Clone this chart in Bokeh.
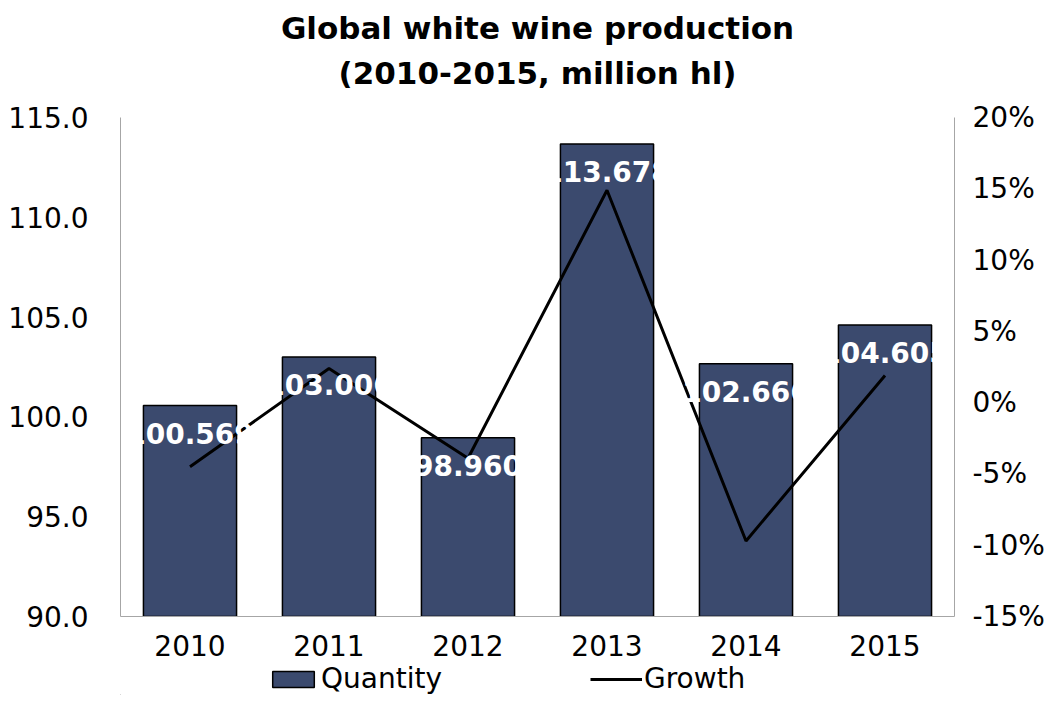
from bokeh.plotting import figure
from bokeh.layouts import column
from bokeh.models import (FactorRange, Range1d, LinearAxis, FixedTicker, NumeralTickFormatter,
                          ColumnDataSource, Legend, LegendItem)
from bokeh.core.properties import value
from bokeh.embed import file_html
from bokeh.resources import INLINE

years = ["2010", "2011", "2012", "2013", "2014", "2015"]
quantity = [100.569, 103.006, 98.960, 113.678, 102.666, 104.605]
growth = [-0.045, 0.024, -0.039, 0.149, -0.097, 0.019]
labels = ["100.569", "103.006", "98.960", "113.678", "102.666", "104.605"]
title_lines = ["Global white wine production", "(2010-2015, million hl)"]

left_ticks = [90, 95, 100, 105, 110, 115]
right_ticks = [-0.15, -0.10, -0.05, 0.0, 0.05, 0.10, 0.15, 0.20]

FONT = "DejaVu Sans"
BAR = "#3B4A6E"
AXIS = "#A6A6A6"
W = 1047


def strip(height):
    f = figure(width=W, height=height, x_range=Range1d(0, 1), y_range=Range1d(0, height),
               output_backend="svg", toolbar_location=None, min_border=0,
               x_axis_type=None, y_axis_type=None)
    f.outline_line_color = None
    f.xgrid.grid_line_color = None
    f.ygrid.grid_line_color = None
    return f


# ---- title strip
top = strip(96)
top.text(x=[0.5, 0.5], y=[69, 24], text=title_lines, text_font=value(FONT),
         text_font_style="bold", text_font_size="31px", text_color="black",
         text_align="center", text_baseline="middle")

# ---- main chart
src = ColumnDataSource(dict(x=years, q=quantity, g=growth, lab=labels))

p = figure(width=W, height=565, x_range=FactorRange(*years), y_range=Range1d(90, 115),
           output_backend="svg", toolbar_location=None,
           min_border_left=120, min_border_right=86, min_border_top=21, min_border_bottom=45)
p.extra_y_ranges = {"pct": Range1d(-0.15, 0.20)}
p.outline_line_color = None
p.xgrid.grid_line_color = None
p.ygrid.grid_line_color = None

bars = p.vbar(x="x", top="q", bottom=90, width=0.67, source=src, fill_color=BAR,
              line_color="black", line_width=1.5)
line = p.line(x="x", y="g", source=src, y_range_name="pct", line_color="black", line_width=3)
p.text(x="x", y="q", text="lab", source=src, text_color="white", text_font=value(FONT),
       text_font_style="bold", text_font_size="28px", text_align="center",
       text_baseline="top", y_offset=17)


def style_axis(ax):
    ax.axis_line_color = AXIS
    ax.axis_line_width = 1
    ax.major_tick_line_color = None
    ax.minor_tick_line_color = None
    ax.major_label_text_font = FONT
    ax.major_label_text_font_size = "28px"
    ax.major_label_text_color = "black"


style_axis(p.xaxis[0])
p.xaxis[0].major_label_standoff = 12

yl = p.yaxis[0]
style_axis(yl)
yl.ticker = FixedTicker(ticks=left_ticks)
yl.formatter = NumeralTickFormatter(format="0.0")
yl.major_label_standoff = 26

yr = LinearAxis(y_range_name="pct", ticker=FixedTicker(ticks=right_ticks),
                formatter=NumeralTickFormatter(format="0%"))
style_axis(yr)
yr.major_label_standoff = 12
p.add_layout(yr, "right")

# ---- legend strip
lg = strip(34)
lg.min_border_left = 120
lg.min_border_right = 86
dummy = ColumnDataSource(dict(x=[-5, -4], top=[-5, -4]))
lbar = lg.vbar(x="x", top="top", width=0.1, source=dummy, fill_color=BAR,
               line_color="black", line_width=1.5)
lline = lg.line(x="x", y="top", source=dummy, line_color="black", line_width=3)
legend = Legend(items=[LegendItem(label="Quantity", renderers=[lbar]),
                       LegendItem(label="Growth", renderers=[lline])],
                orientation="horizontal", location=(147, 0),
                label_text_font=FONT, label_text_font_size="28px", label_text_color="black",
                glyph_width=52, glyph_height=20, label_standoff=2, spacing=148,
                padding=0, margin=0, border_line_color=None, background_fill_alpha=0)
lg.add_layout(legend, "center")

layout = column(top, p, lg, spacing=0)
open("out.html", "w").write(file_html(layout, INLINE))
